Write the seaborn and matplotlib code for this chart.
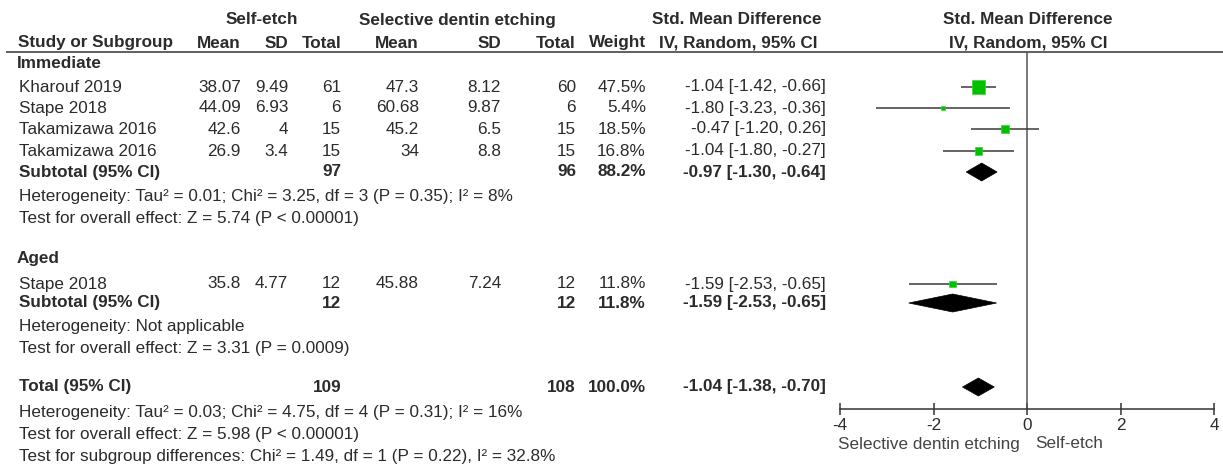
import numpy as np
import pandas as pd
import seaborn as sns
import matplotlib.pyplot as plt
from matplotlib.patches import Polygon

# ---- study-level data -------------------------------------------------------
study_names = ["Kharouf 2019", "Stape 2018", "Takamizawa 2016", "Takamizawa 2016", "Stape 2018"]
study_group = ["Immediate", "Immediate", "Immediate", "Immediate", "Aged"]
se_mean = [38.07, 44.09, 42.6, 26.9, 35.8]
se_sd = [9.49, 6.93, 4, 3.4, 4.77]
se_total = [61, 6, 15, 15, 12]
sde_mean = [47.3, 60.68, 45.2, 34, 45.88]
sde_sd = [8.12, 9.87, 6.5, 8.8, 7.24]
sde_total = [60, 6, 15, 15, 12]
weights = [47.5, 5.4, 18.5, 16.8, 11.8]
smd = [-1.04, -1.80, -0.47, -1.04, -1.59]
smd_lo = [-1.42, -3.23, -1.20, -1.80, -2.53]
smd_hi = [-0.66, -0.36, 0.26, -0.27, -0.65]

# ---- pooled estimates --------------------------------------------------------
groups = ["Immediate", "Aged"]
sub_se_total = [97, 12]
sub_sde_total = [96, 12]
sub_weight = [88.2, 11.8]
sub_smd = [-0.97, -1.59]
sub_lo = [-1.30, -2.53]
sub_hi = [-0.64, -0.65]
sub_het = ["Heterogeneity: Tau\u00b2 = 0.01; Chi\u00b2 = 3.25, df = 3 (P = 0.35); I\u00b2 = 8%",
           "Heterogeneity: Not applicable"]
sub_test = ["Test for overall effect: Z = 5.74 (P < 0.00001)",
            "Test for overall effect: Z = 3.31 (P = 0.0009)"]

tot_se_total = 109
tot_sde_total = 108
tot_weight = 100.0
tot_smd = -1.04
tot_lo = -1.38
tot_hi = -0.70
tot_notes = ["Heterogeneity: Tau\u00b2 = 0.03; Chi\u00b2 = 4.75, df = 4 (P = 0.31); I\u00b2 = 16%",
             "Test for overall effect: Z = 5.98 (P < 0.00001)",
             "Test for subgroup differences: Chi\u00b2 = 1.49, df = 1 (P = 0.22), I\u00b2 = 32.8%"]

axis_ticks = [-4, -2, 0, 2, 4]
favours = ["Selective dentin etching", "Self-etch"]

# ---- layout (pixel rows / columns) ------------------------------------------
W, H = 1223, 466
row_y = {
    "hdr1": 20, "hdr2": 43, "rule": 52,
    "Immediate": 64, "Immediate_rows": [87, 108, 129, 151], "Immediate_sub": 172,
    "Immediate_het": 197, "Immediate_test": 219,
    "Aged": 259, "Aged_rows": [284], "Aged_sub": 303,
    "Aged_het": 326, "Aged_test": 348,
    "total": 387, "total_notes": [413, 435, 457],
    "axis": 409,
}
col_x = {"label": 18, "m1": 241, "sd1": 288, "n1": 341, "m2": 419, "sd2": 501,
         "n2": 576, "w": 646, "ci": 826}

TXT = "#2b2b2b"
FS = 12.3

sns.set_theme(style="white")
plt.rcParams["font.family"] = ["Liberation Sans", "DejaVu Sans"]

fig = plt.figure(figsize=(W / 100, H / 100), dpi=100)
tx = fig.add_axes([0, 0, 1, 1])
tx.set_xlim(0, W)
tx.set_ylim(H, 0)
tx.axis("off")

def put(x, y, s, ha="left", bold=False):
    tx.text(x, y, s, ha=ha, va="center", fontsize=FS, color=TXT,
            fontweight="bold" if bold else "normal")

def fmt_ci(e, lo, hi):
    return f"{e:.2f} [{lo:.2f}, {hi:.2f}]"

# header
put(262, row_y["hdr1"], "Self-etch", ha="center", bold=True)
put(457, row_y["hdr1"], "Selective dentin etching", ha="center", bold=True)
put(737, row_y["hdr1"], "Std. Mean Difference", ha="center", bold=True)
put(1028, row_y["hdr1"], "Std. Mean Difference", ha="center", bold=True)
put(col_x["label"], row_y["hdr2"], "Study or Subgroup", bold=True)
for key, lab in [("m1", "Mean"), ("sd1", "SD"), ("n1", "Total"), ("m2", "Mean"),
                 ("sd2", "SD"), ("n2", "Total"), ("w", "Weight")]:
    put(col_x[key], row_y["hdr2"], lab, ha="right", bold=True)
put(738, row_y["hdr2"], "IV, Random, 95% CI", ha="center", bold=True)
put(1028, row_y["hdr2"], "IV, Random, 95% CI", ha="center", bold=True)
tx.hlines(row_y["rule"], 6, W, color="#444444", lw=1.2)

# study table rows
df = pd.DataFrame({
    "study": study_names, "group": study_group, "se_mean": se_mean, "se_sd": se_sd,
    "se_total": se_total, "sde_mean": sde_mean, "sde_sd": sde_sd,
    "sde_total": sde_total, "weight": weights, "smd": smd, "lo": smd_lo, "hi": smd_hi,
})
ys = []
for g in groups:
    ys += row_y[g + "_rows"]
df["y"] = ys

for g_i, g in enumerate(groups):
    put(col_x["label"] - 1, row_y[g], g, bold=True)
    sub = df[df["group"] == g]
    for _, r in sub.iterrows():
        y = r["y"]
        put(col_x["label"] + 1, y, r["study"])
        put(col_x["m1"], y, f"{r['se_mean']:g}", ha="right")
        put(col_x["sd1"], y, f"{r['se_sd']:g}", ha="right")
        put(col_x["n1"], y, f"{int(r['se_total'])}", ha="right")
        put(col_x["m2"], y, f"{r['sde_mean']:g}", ha="right")
        put(col_x["sd2"], y, f"{r['sde_sd']:g}", ha="right")
        put(col_x["n2"], y, f"{int(r['sde_total'])}", ha="right")
        put(col_x["w"], y, f"{r['weight']:.1f}%", ha="right")
        put(col_x["ci"], y, fmt_ci(r["smd"], r["lo"], r["hi"]), ha="right")
    ys_ = row_y[g + "_sub"]
    put(col_x["label"] + 1, ys_, "Subtotal (95% CI)", bold=True)
    put(col_x["n1"], ys_, f"{sub_se_total[g_i]}", ha="right", bold=True)
    put(col_x["n2"], ys_, f"{sub_sde_total[g_i]}", ha="right", bold=True)
    put(col_x["w"], ys_, f"{sub_weight[g_i]:.1f}%", ha="right", bold=True)
    put(col_x["ci"], ys_, fmt_ci(sub_smd[g_i], sub_lo[g_i], sub_hi[g_i]), ha="right", bold=True)
    put(col_x["label"] + 1, row_y[g + "_het"], sub_het[g_i])
    put(col_x["label"] + 1, row_y[g + "_test"], sub_test[g_i])

yt = row_y["total"]
put(col_x["label"] + 1, yt, "Total (95% CI)", bold=True)
put(col_x["n1"], yt, f"{tot_se_total}", ha="right", bold=True)
put(col_x["n2"], yt, f"{tot_sde_total}", ha="right", bold=True)
put(col_x["w"], yt, f"{tot_weight:.1f}%", ha="right", bold=True)
put(col_x["ci"], yt, fmt_ci(tot_smd, tot_lo, tot_hi), ha="right", bold=True)
for y, s in zip(row_y["total_notes"], tot_notes):
    put(col_x["label"] + 1, y, s)

# ---- forest panel -----------------------------------------------------------
x0, x1 = 840, 1214
ax = fig.add_axes([x0 / W, 0, (x1 - x0) / W, 1])
ax.set_xlim(-4, 4)
ax.set_ylim(H, 0)
ax.patch.set_alpha(0)
for s in ["top", "right", "left"]:
    ax.spines[s].set_visible(False)
ax.spines["bottom"].set_position(("data", row_y["axis"]))
ax.spines["bottom"].set_bounds(-4, 4)
ax.spines["bottom"].set_color("#333333")
ax.spines["bottom"].set_linewidth(1.1)
ax.set_xticks(axis_ticks)
ax.set_xticklabels([f"{t:g}" for t in axis_ticks])
ax.tick_params(axis="x", direction="inout", length=8, width=1.1, color="#333333",
               labelsize=FS, labelcolor=TXT, pad=2.5, bottom=True)
ax.set_yticks([])

ax.vlines(0, row_y["rule"], row_y["axis"], color="#555555", lw=1.1, zorder=1)

# confidence intervals and weighted squares
ax.hlines(df["y"], df["lo"], df["hi"], color="#3a3a3a", lw=1.1, zorder=2)
k = 1.85
sns.scatterplot(data=df, x="smd", y="y", size="weight", sizes=(k * min(weights), k * max(weights)),
                size_norm=(min(weights), max(weights)), marker="s", color="#00c000",
                edgecolor="#30d830", linewidth=0.5, legend=False, ax=ax, zorder=3)
ax.set_xlabel("")
ax.set_ylabel("")
ax.set_ylim(H, 0)

# pooled diamonds
half_h = 9
for est, lo, hi, y in [(sub_smd[0], sub_lo[0], sub_hi[0], row_y["Immediate_sub"]),
                       (sub_smd[1], sub_lo[1], sub_hi[1], row_y["Aged_sub"]),
                       (tot_smd, tot_lo, tot_hi, row_y["total"])]:
    ax.add_patch(Polygon([(lo, y), (est, y - half_h), (hi, y), (est, y + half_h)],
                         closed=True, facecolor="black", edgecolor="black", lw=0.5, zorder=4))

# favours labels
tx.text(838, 444, favours[0], ha="left", va="center", fontsize=FS, color="#444444")
tx.text(1035, 444, favours[1], ha="left", va="center", fontsize=FS, color="#444444")

fig.savefig("out.png", dpi=100, facecolor="white")
